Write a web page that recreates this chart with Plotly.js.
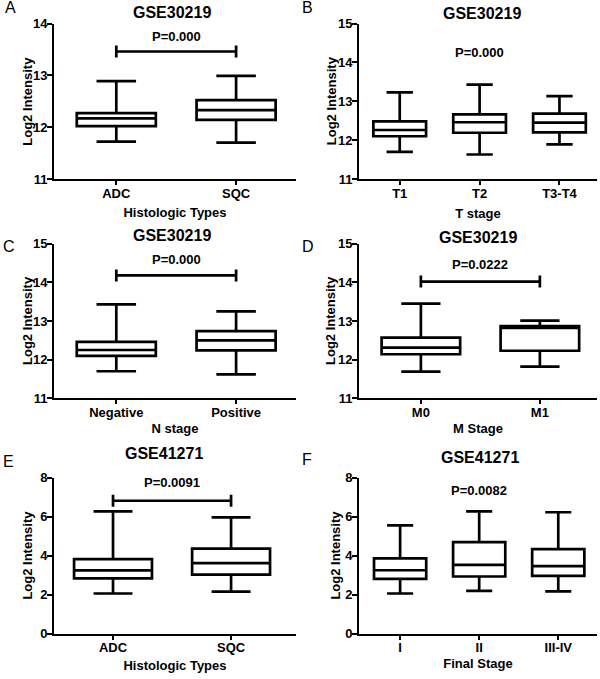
<!DOCTYPE html>
<html><head><meta charset="utf-8">
<script src="https://cdn.plot.ly/plotly-3.0.1.min.js"></script>
<style>html,body{margin:0;padding:0;background:#fff}#chart{width:600px;height:679px}</style>
</head><body><div id="chart"></div>
<script>
// ---------- DATA ----------
// A: GSE30219, Histologic Types
const catsA = ['ADC', 'SQC'];
const minA = [11.72, 11.70];
const q1A  = [12.02, 12.14];
const medA = [12.17, 12.33];
const q3A  = [12.27, 12.52];
const maxA = [12.89, 12.99];
const pTextA = 'P=0.000';
const bracketA = 13.46;

// B: GSE30219, T stage
const catsB = ['T1', 'T2', 'T3-T4'];
const minB = [11.70, 11.63, 11.89];
const q1B  = [12.10, 12.19, 12.20];
const medB = [12.26, 12.46, 12.45];
const q3B  = [12.48, 12.66, 12.68];
const maxB = [13.23, 13.43, 13.13];
const pTextB = 'P=0.000';

// C: GSE30219, N stage
const catsC = ['Negative', 'Positive'];
const minC = [11.70, 11.62];
const q1C  = [12.10, 12.24];
const medC = [12.25, 12.50];
const q3C  = [12.46, 12.74];
const maxC = [13.43, 13.25];
const pTextC = 'P=0.000';
const bracketC = 14.18;

// D: GSE30219, M Stage
const catsD = ['M0', 'M1'];
const minD = [11.69, 11.82];
const q1D  = [12.14, 12.23];
const medD = [12.31, 12.82];
const q3D  = [12.57, 12.87];
const maxD = [13.45, 13.01];
const pTextD = 'P=0.0222';
const bracketD = 14.02;

// E: GSE41271, Histologic Types
const catsE = ['ADC', 'SQC'];
const minE = [2.06, 2.16];
const q1E  = [2.83, 3.03];
const medE = [3.24, 3.61];
const q3E  = [3.82, 4.36];
const maxE = [6.27, 5.96];
const pTextE = 'P=0.0091';
const bracketE = 6.81;

// F: GSE41271, Final Stage
const catsF = ['I', 'II', 'III-IV'];
const minF = [2.06, 2.19, 2.17];
const q1F  = [2.81, 2.93, 2.96];
const medF = [3.25, 3.53, 3.46];
const q3F  = [3.86, 4.69, 4.33];
const maxF = [5.55, 6.27, 6.22];
const pTextF = 'P=0.0082';

const yTitle = 'Log2 Intensity';

// ---------- LAYOUT HELPERS ----------
const W = 600, H = 679;
const colL = [54, 296], colR = [359, 597];
const row1 = [23.5, 179], row2 = [243.7, 398.3], row3 = [477.5, 633.7];
const xd = c => [c[0] / W, c[1] / W];
const yd = r => [1 - r[1] / H, 1 - r[0] / H];
const FONT = 'Liberation Sans, Arial, Helvetica, sans-serif';
const bold = (size) => ({family: FONT, size: size, color: '#000', weight: 'bold'});

const panels = [
  {n: '', letter: 'A', cats: catsA, lo: minA, q1: q1A, md: medA, q3: q3A, hi: maxA, p: pTextA, br: bracketA,
   gse: 'GSE30219', xt: 'Histologic Types', col: colL, row: row1, yr: [11, 14], dt: 1, xr: [-0.52, 1.5],
   pY: 13.74, pX: 0.5, title: [172, 12], let: [3, 8], ytx: 27.5, xso: 8},
  {n: '2', letter: 'B', cats: catsB, lo: minB, q1: q1B, md: medB, q3: q3B, hi: maxB, p: pTextB, br: null,
   gse: 'GSE30219', xt: 'T stage', col: colR, row: row1, yr: [11, 15], dt: 1, xr: [-0.51, 2.47],
   pY: 14.25, pX: 1, title: [482, 13], let: [300, 8], ytx: 331, xso: 9},
  {n: '3', letter: 'C', cats: catsC, lo: minC, q1: q1C, md: medC, q3: q3C, hi: maxC, p: pTextC, br: bracketC,
   gse: 'GSE30219', xt: 'N stage', col: colL, row: row2, yr: [11, 15], dt: 1, xr: [-0.52, 1.5],
   pY: 14.6, pX: 0.5, title: [172, 235], let: [1, 246], ytx: 27, xso: 5},
  {n: '4', letter: 'D', cats: catsD, lo: minD, q1: q1D, md: medD, q3: q3D, hi: maxD, p: pTextD, br: bracketD,
   gse: 'GSE30219', xt: 'M Stage', col: colR, row: row2, yr: [11, 15], dt: 1, xr: [-0.52, 1.48],
   pY: 14.47, pX: 0.5, title: [478, 237], let: [300, 246], ytx: 330, xso: 5},
  {n: '5', letter: 'E', cats: catsE, lo: minE, q1: q1E, md: medE, q3: q3E, hi: maxE, p: pTextE, br: bracketE,
   gse: 'GSE41271', xt: 'Histologic Types', col: colL, row: row3, yr: [0, 8], dt: 2, xr: [-0.5, 1.55],
   pY: 7.72, pX: 0.5, title: [164, 453], let: [1, 461], ytx: 28, xso: 7},
  {n: '6', letter: 'F', cats: catsF, lo: minF, q1: q1F, md: medF, q3: q3F, hi: maxF, p: pTextF, br: null,
   gse: 'GSE41271', xt: 'Final Stage', col: colR, row: row3, yr: [0, 8], dt: 2, xr: [-0.52, 2.49],
   pY: 7.33, pX: 1, title: [480, 457], let: [300, 459], ytx: 336, xso: 5}
];

const data = [];
const layout = {
  width: W, height: H,
  margin: {l: 0, r: 0, t: 0, b: 0},
  paper_bgcolor: '#fff', plot_bgcolor: '#fff',
  showlegend: false,
  font: {family: FONT, color: '#000', size: 13},
  annotations: []
};

panels.forEach(P => {
  const xa = 'x' + P.n, ya = 'y' + P.n;
  data.push({
    type: 'box', orientation: 'v', xaxis: xa, yaxis: ya,
    x: P.cats, q1: P.q1, median: P.md, q3: P.q3, lowerfence: P.lo, upperfence: P.hi,
    boxpoints: false, width: 0.66, whiskerwidth: 0.5,
    fillcolor: '#fff', line: {color: '#000', width: 2.7},
    hoverinfo: 'skip'
  });
  if (P.br !== null) {
    const pxPerUnit = (P.row[1] - P.row[0]) / (P.yr[1] - P.yr[0]);
    const d = 6 / pxPerUnit;
    const a = P.cats[0], b = P.cats[P.cats.length - 1];
    data.push({
      type: 'scatter', mode: 'lines', xaxis: xa, yaxis: ya,
      x: [a, a, a, b, b, b],
      y: [P.br + d, P.br - d, P.br, P.br, P.br + d, P.br - d],
      line: {color: '#000', width: 2.7}, hoverinfo: 'skip'
    });
  }
  layout['xaxis' + P.n] = {
    domain: xd(P.col), anchor: ya, range: P.xr, type: 'category',
    showline: true, linewidth: 2, linecolor: '#000', mirror: false,
    ticks: 'outside', ticklen: 4, tickwidth: 2, tickcolor: '#000',
    ticklabelstandoff: -3,
    showgrid: false, zeroline: false, fixedrange: true,
    tickfont: bold(13),
    title: {text: P.xt, font: bold(13), standoff: P.xso},
    automargin: false
  };
  layout['yaxis' + P.n] = {
    domain: yd(P.row), anchor: xa, range: P.yr, dtick: P.dt, tick0: 0,
    showline: true, linewidth: 2, linecolor: '#000',
    ticks: 'outside', ticklen: 5, tickwidth: 2, tickcolor: '#000',
    ticklabelstandoff: -3,
    showgrid: false, zeroline: false, fixedrange: true,
    tickfont: bold(13),
    automargin: false
  };
  // y-axis title (placed as rotated text beside the axis)
  layout.annotations.push({
    xref: 'paper', yref: 'paper', x: P.ytx / W, y: 1 - ((P.row[0] + P.row[1]) / 2) / H,
    text: yTitle, textangle: -90, showarrow: false, xanchor: 'center', yanchor: 'middle',
    font: bold(13)
  });
  // P-value label
  layout.annotations.push({
    xref: xa, yref: ya, x: P.pX, y: P.pY, text: P.p, showarrow: false,
    xanchor: 'center', yanchor: 'middle', font: bold(13)
  });
  // dataset title
  layout.annotations.push({
    xref: 'paper', yref: 'paper', x: P.title[0] / W, y: 1 - P.title[1] / H, text: P.gse, showarrow: false,
    xanchor: 'center', yanchor: 'middle', font: bold(16)
  });
  // panel letter
  layout.annotations.push({
    xref: 'paper', yref: 'paper', x: P.let[0] / W, y: 1 - P.let[1] / H, text: P.letter, showarrow: false,
    xanchor: 'left', yanchor: 'middle', font: {family: FONT, size: 16, color: '#000'}
  });
});

Plotly.newPlot('chart', data, layout, {displayModeBar: false, staticPlot: true});
</script>
</body></html>
